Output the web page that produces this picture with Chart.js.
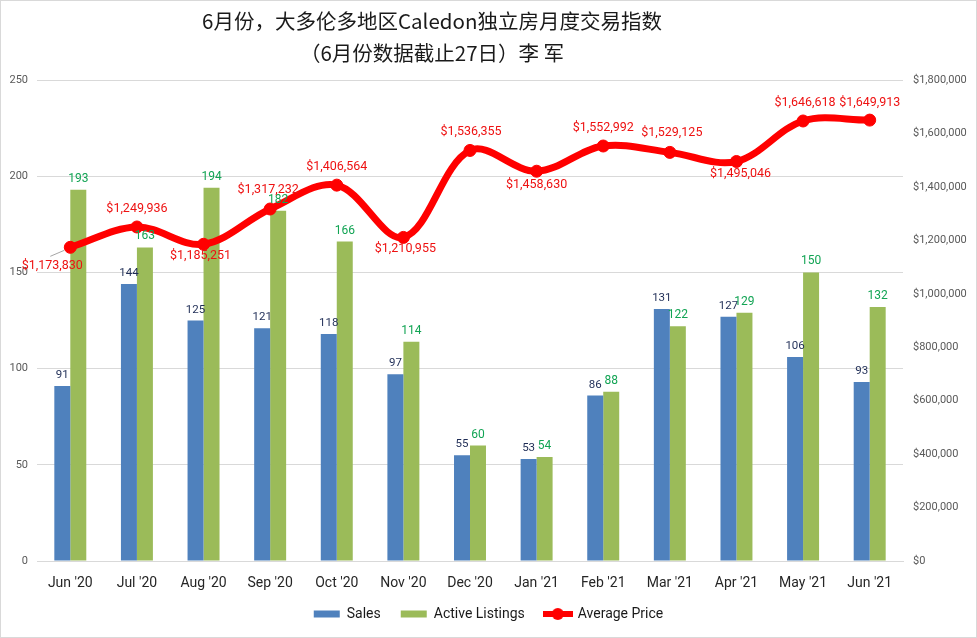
<!DOCTYPE html>
<html>
<head>
<meta charset="utf-8">
<title>Caledon 独立房月度交易指数</title>
<script src="https://cdn.jsdelivr.net/npm/chart.js@4.4.0/dist/chart.umd.min.js"></script>
<style>
  html, body { margin: 0; padding: 0; background: #fff; }
  #wrap { width: 977px; height: 638px; }
</style>
</head>
<body>
<div id="wrap"><canvas id="chart" width="977" height="638"></canvas></div>
<script>
// Chart data
const months = ["Jun '20", "Jul '20", "Aug '20", "Sep '20", "Oct '20", "Nov '20", "Dec '20",
                "Jan '21", "Feb '21", "Mar '21", "Apr '21", "May '21", "Jun '21"];
const sales = [91, 144, 125, 121, 118, 97, 55, 53, 86, 131, 127, 106, 93];
const activeListings = [193, 163, 194, 182, 166, 114, 60, 54, 88, 122, 129, 150, 132];
const averagePrice = [1173830, 1249936, 1185251, 1317232, 1406564, 1210955, 1536355,
                      1458630, 1552992, 1529125, 1495046, 1646618, 1649913];
const countTicks = [0, 50, 100, 150, 200, 250];
const priceTicks = [0, 200000, 400000, 600000, 800000, 1000000, 1200000, 1400000, 1600000, 1800000];
const titleLines = ['6月份，大多伦多地区Caledon独立房月度交易指数', '（6月份数据截止27日）李 军'];

// where each price label sits relative to its marker [dx, dy]
const priceLabelOffsets = [[-18, 19], [0, -18], [-3, 12], [-2, -19], [0, -18], [2, 11], [1, -19],
                           [0, 14], [0, -18], [2, -20], [4, 12], [2, -18], [0, -17]];

const FONT = "Roboto, 'Liberation Sans', sans-serif";
const BLUE = '#4F81BD';
const GREEN = '#9BBB59';
const RED = '#FF0000';

const fmtMoney = v => '$' + Math.round(v).toLocaleString('en-US');

// legend symbol for the line series: red line with a dot
function lineLegendIcon() {
  const c = document.createElement('canvas');
  c.width = 30;
  c.height = 14;
  const g = c.getContext('2d');
  g.strokeStyle = RED;
  g.lineWidth = 6;
  g.beginPath();
  g.moveTo(0, 7);
  g.lineTo(30, 7);
  g.stroke();
  g.fillStyle = RED;
  g.beginPath();
  g.arc(15, 7, 6, 0, Math.PI * 2);
  g.fill();
  return c;
}

const backgroundPlugin = {
  id: 'background',
  beforeDraw(chart) {
    const ctx = chart.ctx;
    ctx.save();
    ctx.fillStyle = '#ffffff';
    ctx.fillRect(0, 0, chart.width, chart.height);
    ctx.strokeStyle = '#d9d9d9';
    ctx.lineWidth = 1;
    ctx.strokeRect(0.5, 0.5, chart.width - 1, chart.height - 1);
    ctx.restore();
  }
};

// the x labels get clipped to the axis box, give them some room below
const axisRoomPlugin = {
  id: 'axisRoom',
  afterLayout(chart) {
    const x = chart.scales.x;
    x.bottom = x.top + 40;
  }
};

const titlePlugin = {
  id: 'offsetTitle',
  afterDraw(chart) {
    const ctx = chart.ctx;
    ctx.save();
    ctx.fillStyle = '#1a1a1a';
    ctx.font = "20.5px 'Noto Sans CJK SC', sans-serif";
    ctx.textAlign = 'center';
    ctx.textBaseline = 'middle';
    ctx.fillText(titleLines[0], 432, 21);
    ctx.fillText(titleLines[1], 432, 53);
    ctx.restore();
  }
};

const valueLabelPlugin = {
  id: 'valueLabels',
  afterDatasetsDraw(chart) {
    const ctx = chart.ctx;
    ctx.save();
    ctx.textAlign = 'center';

    // bar labels
    const barColors = ['#1F2D56', '#12A454'];
    const barSizes = [11.5, 12];
    [0, 1].forEach(di => {
      const meta = chart.getDatasetMeta(di);
      ctx.font = barSizes[di] + 'px ' + FONT;
      ctx.fillStyle = barColors[di];
      ctx.textBaseline = 'bottom';
      meta.data.forEach((bar, i) => {
        ctx.fillText(chart.data.datasets[di].data[i], bar.x, bar.y - 5);
      });
    });

    // price labels
    const lineMeta = chart.getDatasetMeta(2);
    ctx.font = '12.5px ' + FONT;
    ctx.fillStyle = '#EE1111';
    ctx.textBaseline = 'middle';
    lineMeta.data.forEach((pt, i) => {
      const [dx, dy] = priceLabelOffsets[i];
      if (i === 0) {
        // leader line for the first label
        ctx.strokeStyle = '#a6a6a6';
        ctx.lineWidth = 1;
        ctx.beginPath();
        ctx.moveTo(pt.x - 6, pt.y + 3);
        ctx.lineTo(pt.x - 20, pt.y + 9);
        ctx.stroke();
      }
      ctx.fillText(fmtMoney(averagePrice[i]), pt.x + dx, pt.y + dy);
    });
    ctx.restore();
  }
};

const ctx = document.getElementById('chart').getContext('2d');

new Chart(ctx, {
  type: 'bar',
  data: {
    labels: months,
    datasets: [
      {
        label: 'Sales',
        data: sales,
        backgroundColor: BLUE,
        borderWidth: 0,
        yAxisID: 'y',
        categoryPercentage: 0.48,
        barPercentage: 1.0,
        pointStyle: 'rect'
      },
      {
        label: 'Active Listings',
        data: activeListings,
        backgroundColor: GREEN,
        borderWidth: 0,
        yAxisID: 'y',
        categoryPercentage: 0.48,
        barPercentage: 1.0,
        pointStyle: 'rect'
      },
      {
        type: 'line',
        label: 'Average Price',
        data: averagePrice,
        yAxisID: 'y1',
        borderColor: RED,
        backgroundColor: RED,
        borderWidth: 7,
        tension: 0.35,
        pointRadius: 6,
        pointBackgroundColor: RED,
        pointBorderColor: RED,
        pointBorderWidth: 1,
        fill: false,
        order: -1
      }
    ]
  },
  options: {
    responsive: false,
    devicePixelRatio: 1,
    animation: false,
    layout: {
      padding: { top: 80, left: 0, right: 0, bottom: 7 }
    },
    plugins: {
      title: { display: false },
      tooltip: { enabled: false },
      legend: {
        position: 'bottom',
        labels: {
          usePointStyle: true,
          pointStyleWidth: 26,
          boxHeight: 7,
          padding: 20,
          color: '#1a1a1a',
          font: { family: FONT, size: 14 },
          sort: (a, b) => a.datasetIndex - b.datasetIndex,
          generateLabels(chart) {
            const items = Chart.defaults.plugins.legend.labels.generateLabels(chart);
            items.forEach(item => {
              if (item.datasetIndex === 2) {
                item.pointStyle = lineLegendIcon();
              } else {
                item.lineWidth = 0;
              }
            });
            return items;
          }
        }
      }
    },
    scales: {
      x: {
        offset: true,
        grid: { display: false, drawTicks: false },
        border: { display: true, color: '#d9d9d9' },
        ticks: {
          color: '#262626',
          font: { family: FONT, size: 14 },
          padding: 14,
          maxRotation: 0,
          autoSkip: false
        },
        afterFit(scale) { scale.height = 26; }
      },
      y: {
        position: 'left',
        min: 0,
        max: 250,
        afterBuildTicks(axis) { axis.ticks = countTicks.map(v => ({ value: v })); },
        grid: { color: '#d9d9d9', drawTicks: false },
        border: { display: false },
        ticks: {
          color: '#595959',
          font: { family: FONT, size: 11 },
          padding: 9
        },
        afterFit(scale) { scale.width = 37; }
      },
      y1: {
        position: 'right',
        min: 0,
        max: 1800000,
        afterBuildTicks(axis) { axis.ticks = priceTicks.map(v => ({ value: v })); },
        grid: { display: false, drawTicks: false },
        border: { display: false },
        ticks: {
          color: '#595959',
          font: { family: FONT, size: 11 },
          padding: 10,
          callback: v => fmtMoney(v)
        },
        afterFit(scale) { scale.width = 74; }
      }
    }
  },
  plugins: [backgroundPlugin, axisRoomPlugin, valueLabelPlugin, titlePlugin]
});
</script>
</body>
</html>
